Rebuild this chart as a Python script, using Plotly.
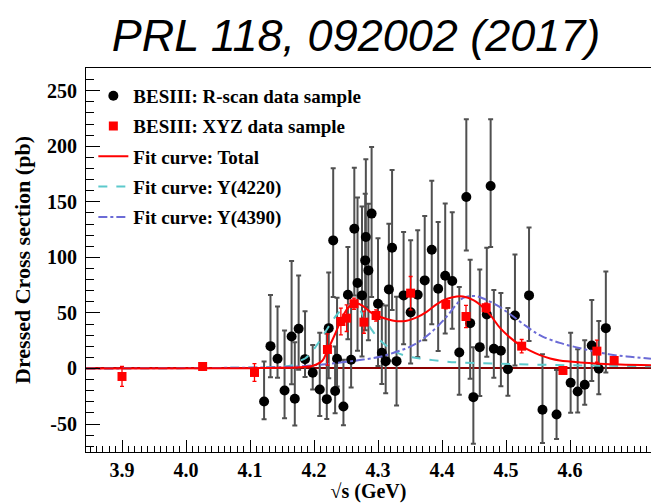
import plotly.graph_objects as go

# --- e+e- -> pi+ pi- h_c dressed cross section ---

# BESIII R-scan data sample (energy in GeV, cross section in pb, asymmetric errors)
rscan_E = [4.122, 4.132, 4.143, 4.154, 4.165, 4.170, 4.176, 4.186, 4.198, 4.209,
           4.220, 4.223, 4.230, 4.233, 4.236, 4.246, 4.253, 4.258, 4.263, 4.268,
           4.275, 4.280, 4.281, 4.285, 4.290, 4.300, 4.306, 4.312, 4.317, 4.322,
           4.329, 4.340, 4.351, 4.362, 4.373, 4.384, 4.394, 4.405, 4.416, 4.427,
           4.438, 4.444, 4.449, 4.459, 4.470, 4.476, 4.481, 4.492, 4.503, 4.514,
           4.536, 4.557, 4.579, 4.601, 4.612, 4.623, 4.634, 4.645, 4.656]
rscan_xs = [-29.7, 20.1, 8.7, -19.8, 28.8, -27.3, 35.8, 8.4, -3.9, -18.9,
            -27.6, 36.3, 115.3, -20.3, 8.7, -34.2, 66.4, 7.8, 125.8, 76.9,
            65.8, 97.3, 118.3, 88.3, 139.4, 58.3, 14.1, 6.6, 71.2, 108.7,
            6.6, 65.8, 50.5, 66.4, 79.3, 106.9, 71.8, 83.5, 78.7, 14.4,
            154.3, 40.8, -25.8, 19.2, 48.6, 164.3, 17.7, 15.9, -0.6, 47.7,
            65.8, -37.2, -41.4, -12.9, -20.7, -14.7, 20.7, -0.3, 36.3]
rscan_err_up = [36, 46, 47, 54, 68, 51, 48, 43, 25, 51,
                59, 50, 65, 40, 55, 42, 43, 50, 55, 77,
                80, 60, 70, 60, 60, 59, 44, 50, 59, 70,
                58, 57, 65, 58, 58, 62, 60, 65, 62, 59,
                70, 57, 45, 70, 60, 60, 53, 52, 55, 55,
                61, 50, 40, 45, 38, 40, 41, 43, 51]
rscan_err_dn = [16, 28, 17, 25, 43, 24, 37, 16, 15, 24,
                18, 45, 51, 20, 25, 17, 40, 25, 60, 61,
                55, 63, 63, 63, 75, 56, 28, 29, 64, 56,
                40, 44, 46, 56, 54, 67, 56, 52, 43, 38,
                48, 50, 42, 44, 38, 55, 26, 32, 24, 45,
                41, 30, 22, 27, 19, 18, 32, 23, 40]

# BESIII XYZ data sample
xyz_E = [3.900, 4.026, 4.107, 4.221, 4.242, 4.251, 4.2625, 4.278, 4.297,
         4.351, 4.406, 4.4375, 4.469, 4.5245, 4.589, 4.642, 4.669]
xyz_xs = [-7.2, 1.8, -3.6, 17.1, 42.3, 45.3, 58.3, 41.7, 47.7,
          67.8, 57.7, 46.8, 54.7, 20.1, -1.8, 15.6, 7.2]
xyz_err = [9, 3, 8, 14, 12, 12, 5, 10, 5,
           15, 4, 10, 4, 6, 3, 10, 3]

# Fit curves sampled along the energy axis
total_E = [3.844, 4.100, 4.147, 4.178, 4.198, 4.213, 4.220, 4.233, 4.241, 4.251,
           4.259, 4.267, 4.277, 4.2875, 4.298, 4.3136, 4.329, 4.345, 4.3605, 4.376,
           4.392, 4.407, 4.423, 4.433, 4.449, 4.459, 4.475, 4.4906, 4.506, 4.522,
           4.5375, 4.553, 4.569, 4.584, 4.616, 4.647, 4.678, 4.727]
total_xs = [0.0, 0.3, 0.6, 1.2, 2.5, 7.0, 15.0, 31.0, 42.0, 53.0,
            57.5, 58.8, 56.0, 51.0, 47.7, 44.5, 42.6, 43.0, 46.0, 51.0,
            58.0, 62.5, 64.8, 64.8, 61.5, 57.5, 48.5, 36.5, 28.0, 21.0,
            16.0, 12.0, 9.0, 7.2, 5.4, 4.3, 3.6, 3.0]

y4220_E = [3.844, 4.022, 4.100, 4.147, 4.166, 4.178, 4.186, 4.198, 4.209, 4.220,
           4.230, 4.238, 4.251, 4.2625, 4.269, 4.277, 4.290, 4.303, 4.319, 4.3395,
           4.3656, 4.397, 4.428, 4.4906, 4.569, 4.647, 4.727]
y4220_xs = [0.0, 0.3, 0.8, 1.5, 3.0, 7.0, 9.0, 16.0, 25.0, 35.0,
            44.0, 50.0, 56.0, 58.5, 56.0, 47.0, 35.0, 25.5, 18.0, 12.0,
            9.0, 6.8, 5.3, 4.3, 3.2, 2.5, 2.0]

y4390_E = [3.844, 4.022, 4.147, 4.198, 4.251, 4.277, 4.303, 4.329, 4.355, 4.381,
           4.407, 4.423, 4.433, 4.444, 4.454, 4.4645, 4.4855, 4.506, 4.527, 4.548,
           4.558, 4.584, 4.6105, 4.636, 4.6625, 4.6886, 4.7265]
y4390_xs = [0.0, 0.4, 1.2, 2.7, 6.0, 8.0, 10.5, 15.0, 21.0, 31.5,
            46.5, 58.0, 63.5, 65.2, 65.0, 63.0, 57.0, 49.0, 40.0, 31.5,
            28.5, 23.0, 19.0, 15.6, 12.6, 10.8, 8.7]

# Axis ticks
x_ticks = [3.9, 4.0, 4.1, 4.2, 4.3, 4.4, 4.5, 4.6]
x_labels = ["3.9", "4.0", "4.1", "4.2", "4.3", "4.4", "4.5", "4.6"]
y_ticks = [-50, 0, 50, 100, 150, 200, 250]
y_labels = ["-50", "0", "50", "100", "150", "200", "250"]

SERIF = "Liberation Serif"

fig = go.Figure()

fig.add_trace(go.Scatter(
    x=rscan_E, y=rscan_xs, mode="markers",
    name="BESIII: R-scan data sample", legendgroup="g1", legendrank=1,
    marker=dict(symbol="circle", size=10, color="black"),
    error_y=dict(type="data", symmetric=False, array=rscan_err_up,
                 arrayminus=rscan_err_dn, color="#505050", thickness=2, width=2.5),
))

fig.add_trace(go.Scatter(
    x=y4220_E, y=y4220_xs, mode="lines", line_shape="spline",
    name="Fit curve: Y(4220)", legendgroup="g4", legendrank=4,
    line=dict(color="#5cc9cc", width=2, dash="dash"),
))

fig.add_trace(go.Scatter(
    x=y4390_E, y=y4390_xs, mode="lines", line_shape="spline",
    name="Fit curve: Y(4390)", legendgroup="g5", legendrank=5,
    line=dict(color="#6b6bd6", width=2, dash="dashdot"),
))

fig.add_trace(go.Scatter(
    x=total_E, y=total_xs, mode="lines", line_shape="spline",
    name="Fit curve: Total", legendgroup="g3", legendrank=3,
    line=dict(color="#ff0000", width=2),
))

fig.add_trace(go.Scatter(
    x=xyz_E, y=xyz_xs, mode="markers",
    name="BESIII: XYZ data sample", legendgroup="g2", legendrank=2,
    marker=dict(symbol="square", size=9, color="#ff0000"),
    error_y=dict(type="data", array=xyz_err, color="#ff0000", thickness=1.3, width=2),
))

fig.update_layout(
    width=651, height=503,
    margin=dict(l=86, r=0, t=68, b=51),
    paper_bgcolor="white", plot_bgcolor="white",
    title=dict(text="PRL 118, 092002 (2017)", x=356 / 651, xanchor="center",
               y=1 - 35 / 503, yanchor="middle", xref="container", yref="container",
               font=dict(family="Liberation Sans", size=45, style="italic", color="black")),
    showlegend=True,
    legend=dict(x=0.013, y=0.977, xanchor="left", yanchor="top",
                bgcolor="rgba(0,0,0,0)", borderwidth=0,
                traceorder="grouped", tracegroupgap=2.6, itemwidth=30,
                font=dict(family=SERIF, size=19, weight="bold", color="black")),
    xaxis=dict(
        range=[3.84375, 4.72656], showgrid=False, zeroline=False,
        showline=True, linecolor="black", linewidth=1.2, mirror=True,
        ticks="inside", ticklen=12, tickwidth=1.2, tickcolor="black",
        tickvals=x_ticks, ticktext=x_labels,
        minor=dict(dtick=0.01, tick0=3.9, ticks="inside", ticklen=6,
                   tickwidth=1, tickcolor="black", showgrid=False),
        tickfont=dict(family=SERIF, size=20, weight="bold", color="black"),
        title=dict(text="√s (GeV)", standoff=5,
                   font=dict(family=SERIF, size=20, weight="bold", color="black")),
    ),
    yaxis=dict(
        range=[-75.2, 270.5], showgrid=False,
        zeroline=True, zerolinecolor="#8b0000", zerolinewidth=2,
        showline=True, linecolor="black", linewidth=1.2, mirror=False,
        ticks="inside", ticklen=14, tickwidth=1.2, tickcolor="black",
        tickvals=y_ticks, ticktext=y_labels,
        minor=dict(dtick=10, tick0=0, ticks="inside", ticklen=8,
                   tickwidth=1, tickcolor="black", showgrid=False),
        tickfont=dict(family=SERIF, size=20, weight="bold", color="black"),
        ticklabelstandoff=4,
        title=dict(text="Dressed Cross section (pb)", standoff=10,
                   font=dict(family=SERIF, size=22, weight="bold", color="black")),
    ),
)

fig.write_html("out.html")
